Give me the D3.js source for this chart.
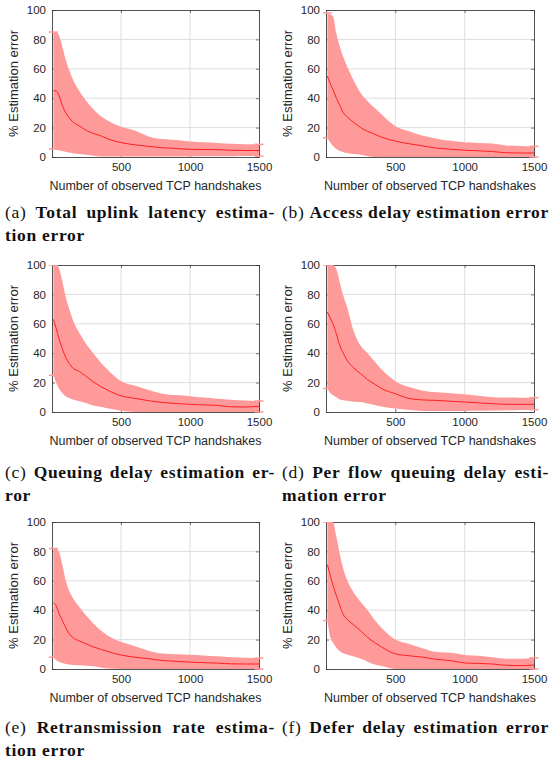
<!DOCTYPE html>
<html>
<head>
<meta charset="utf-8">
<script src="https://cdn.jsdelivr.net/npm/d3@7"></script>
<style>
  body { margin: 0; background: #fff; }
  text { font-family: "Liberation Sans", Arial, sans-serif; }
  .cap { font-family: "Liberation Serif", "Times New Roman", serif; font-size: 17.5px; letter-spacing: 0.7px; fill: #111; }
</style>
</head>
<body>
<svg id="fig" width="553" height="765"></svg>
<script>
// observed handshakes (x positions shared by all panels)
const xPts   = [10, 30, 50, 75, 100, 125, 150, 200, 250, 300, 350, 400, 500, 600, 700, 800, 900, 1000, 1100, 1200, 1300, 1400, 1500];
const xTicks = [500, 1000, 1500];
const yTicks = [0, 20, 40, 60, 80, 100];

// (a) total uplink latency
const meanA  = [45, 45, 42, 35, 30, 26.5, 24, 21, 18, 16, 14.5, 12.5, 9.8, 8.3, 7.2, 6.3, 5.8, 5.2, 5.1, 5.0, 4.6, 4.4, 4.4];
const upperA = [85, 85, 83, 75, 66, 59, 53, 44.5, 38, 32.5, 28, 25, 20.5, 18, 14, 12.2, 11.5, 10.5, 10, 9.5, 9, 8.7, 8.6];
const lowerA = [5.5, 5, 4.6, 4, 3.5, 3, 2.6, 2.1, 1.5, 0.9, 0.3, 0.3, 0.3, 0.3, 0.3, 0.3, 0.4, 0.4, 0.5, 0.5, 0.5, 0.6, 0.6];
// (b) access delay
const meanB  = [55, 50, 46, 40, 35, 30, 27.5, 23.5, 20, 17.5, 15.5, 13.5, 10.8, 9, 7.5, 6, 5.3, 4.6, 4.2, 3.7, 2.9, 2.7, 2.7];
const upperB = [98, 97, 96, 84, 75, 68, 62, 52, 43.5, 38, 33.5, 29, 21, 17.6, 14.5, 12.5, 11, 10, 9.6, 9.2, 7.9, 7.5, 7.3];
const lowerB = [13, 10, 7.5, 5.5, 4, 3.3, 2.8, 2, 1.5, 0.5, 0, 0, 0, 0, 0, 0, 0, 0, 0, 0, 0, 0, 0];
// (c) queuing delay
const meanC  = [63, 57, 50, 43, 37, 33, 30, 27.5, 24, 20.5, 17.5, 15, 11, 9.3, 7.7, 6.5, 5.8, 5.2, 4.8, 4.5, 3.5, 3.4, 3.9];
const upperC = [100, 100, 98, 89, 78, 70, 63, 53.5, 46, 40, 34, 29, 21, 18, 15, 12.5, 11.5, 10.7, 9.8, 9, 8.3, 7.8, 7.5];
const lowerC = [25, 20, 16, 13, 10.5, 9.5, 8.5, 7.3, 6, 4.5, 3.5, 2.5, 0.8, 0, 0, 0, 0, 0, 0, 0, 0, 0, 0];
// (d) per flow queuing delay
const meanD  = [68, 64, 60, 53, 45, 40, 35.5, 30, 26, 22, 19, 16, 12.4, 9.2, 8.2, 7.9, 7.3, 6.8, 6.2, 5.7, 5.2, 5.2, 5.2];
const upperD = [100, 100, 100, 97, 88, 79, 72, 55, 45, 40, 34.5, 29, 21, 17, 14.5, 13.5, 12.7, 12, 11, 10, 9.8, 9.7, 9.7];
const lowerD = [16, 13, 11.5, 10, 8.5, 8, 7.7, 7, 6.8, 5.7, 4.8, 3.8, 2.3, 1.3, 0.7, 0.7, 0.7, 0.7, 0.8, 1, 1.2, 1.4, 1.6];
// (e) retransmission rate
const meanE  = [45, 43, 38, 33, 28, 24, 21.5, 19, 17, 15, 13.5, 12, 9.5, 8, 7, 5.8, 5.2, 4.7, 4.3, 4, 3.5, 3.4, 3.4];
const upperE = [82, 82, 80, 71, 60, 53, 48.5, 42, 36, 31, 26.5, 23, 18.5, 15.5, 12.5, 10.5, 10, 9.7, 9.2, 8.6, 8, 7.6, 7.4];
const lowerE = [8, 6, 5, 4, 3.4, 3, 2.8, 2.5, 2.2, 1.8, 1, 0.3, 0, 0, 0, 0, 0, 0, 0, 0, 0, 0, 0];
// (f) defer delay
const meanF  = [71, 64, 57, 50, 43, 37, 34, 30, 26, 21.5, 18, 15, 10.3, 9, 8, 6.5, 5.7, 4.1, 3.8, 3.4, 2.5, 2.3, 2.7];
const upperF = [100, 100, 100, 90, 78, 68, 61, 52, 45.5, 40, 33.5, 28, 20, 17, 14, 11.5, 11, 9.6, 9, 8, 7, 6.9, 7.6];
const lowerF = [33, 22, 18, 14.5, 12, 10.5, 9.8, 8.5, 6.9, 5, 3, 2, 0, 0, 0, 0, 0, 0, 0, 0, 0, 0, 0];

const captions = [
  ["(a) Total uplink latency estima-", "tion error"],
  ["(b) Access delay estimation error"],
  ["(c) Queuing delay estimation er-", "ror"],
  ["(d) Per flow queuing delay esti-", "mation error"],
  ["(e) Retransmission rate estima-", "tion error"],
  ["(f) Defer delay estimation error"]
];

const series = [
  [meanA, upperA, lowerA], [meanB, upperB, lowerB],
  [meanC, upperC, lowerC], [meanD, upperD, lowerD],
  [meanE, upperE, lowerE], [meanF, upperF, lowerF]
];

// layout of the 3x2 grid
const cols = [{ left: 52, right: 259, capL: 5, capR: 275, ylab: 18 },
              { left: 326, right: 534, capL: 282, capR: 549, ylab: 292 }];
const rows = [{ top: 10, bottom: 157, cap: 218 },
              { top: 265, bottom: 412, cap: 478 },
              { top: 522, bottom: 669, cap: 733 }];

const svg = d3.select('#fig');
const ink = '#262626';
const bandColor = '#ff9a9a';
const lineColor = '#ff1f1f';

function drawPanel(i) {
  const c = cols[i % 2], r = rows[Math.floor(i / 2)];
  const [mean, upper, lower] = series[i];
  const pts = xPts.map((v, k) => ({ x: v, m: mean[k], u: upper[k], l: lower[k] }));

  const x = d3.scaleLinear().domain([0, 1500]).range([c.left, c.right]);
  const y = d3.scaleLinear().domain([0, 100]).range([r.bottom, r.top]);
  const g = svg.append('g');

  // grid
  g.append('g').selectAll('line').data(xTicks.slice(0, -1)).join('line')
    .attr('x1', d => x(d)).attr('x2', d => x(d))
    .attr('y1', r.top).attr('y2', r.bottom)
    .attr('stroke', '#dedede').attr('stroke-width', 1);
  g.append('g').selectAll('line').data(yTicks.slice(1, -1)).join('line')
    .attr('x1', c.left).attr('x2', c.right)
    .attr('y1', d => y(d)).attr('y2', d => y(d))
    .attr('stroke', '#dedede').attr('stroke-width', 1);

  // axes (box with inside ticks)
  const fmt = d3.format('d');
  const axB = g.append('g').attr('transform', `translate(0,${r.bottom})`)
    .call(d3.axisBottom(x).tickValues(xTicks).tickFormat(fmt).tickSizeInner(-3).tickSizeOuter(0).tickPadding(6));
  const axT = g.append('g').attr('transform', `translate(0,${r.top})`)
    .call(d3.axisTop(x).tickValues(xTicks).tickSizeInner(-3).tickSizeOuter(0).tickFormat(''));
  const axL = g.append('g').attr('transform', `translate(${c.left},0)`)
    .call(d3.axisLeft(y).tickValues(yTicks).tickFormat(fmt).tickSizeInner(-3).tickSizeOuter(0).tickPadding(6));
  const axR = g.append('g').attr('transform', `translate(${c.right},0)`)
    .call(d3.axisRight(y).tickValues(yTicks).tickSizeInner(-3).tickSizeOuter(0).tickFormat(''));
  [axB, axT, axL, axR].forEach(a => {
    a.select('.domain').attr('stroke', ink).attr('stroke-width', 0.8);
    a.selectAll('.tick line').attr('stroke', ink).attr('stroke-width', 0.6);
    a.selectAll('text').attr('fill', ink).attr('font-size', 11.5)
      .attr('font-family', '"Liberation Sans", Arial, sans-serif');
  });

  // clip to top of the plot area only
  const cid = 'clip' + i;
  svg.append('clipPath').attr('id', cid).append('rect')
    .attr('x', c.left - 10).attr('y', r.top).attr('width', c.right - c.left + 20).attr('height', r.bottom - r.top + 2);
  const data = g.append('g').attr('clip-path', `url(#${cid})`);

  const area = d3.area().curve(d3.curveMonotoneX)
    .x(d => x(d.x)).y0(d => y(d.l)).y1(d => y(d.u));
  data.append('path').datum(pts).attr('d', area).attr('fill', bandColor);

  // error bar caps at the two ends
  const ends = [pts[0], pts[pts.length - 1]];
  ends.forEach(d => {
    [d.u, d.l].forEach(v => {
      data.append('line')
        .attr('x1', x(d.x) - 4.5).attr('x2', x(d.x) + 4.5)
        .attr('y1', y(v)).attr('y2', y(v))
        .attr('stroke', bandColor).attr('stroke-width', 1.5);
    });
  });

  const line = d3.line().curve(d3.curveMonotoneX).x(d => x(d.x)).y(d => y(d.m));
  data.append('path').datum(pts).attr('d', line)
    .attr('fill', 'none').attr('stroke', lineColor).attr('stroke-width', 1);

  // axis labels
  g.append('text').attr('x', (c.left + c.right) / 2).attr('y', r.bottom + 33)
    .attr('text-anchor', 'middle').attr('font-size', 12.5).attr('fill', ink)
    .text('Number of observed TCP handshakes');
  g.append('text')
    .attr('transform', `translate(${c.ylab},${(r.top + r.bottom) / 2}) rotate(-90)`)
    .attr('text-anchor', 'middle').attr('font-size', 13).attr('fill', ink)
    .text('% Estimation error');

  // caption: first line justified, second line left
  const lines = captions[i];
  lines.forEach((txt, li) => {
    const words = txt.split(' ');
    const yb = r.cap + li * 23;
    const nodes = words.map((w, k) => svg.append('text').attr('class', 'cap').attr('y', yb)
      .attr('font-weight', (li === 0 && k === 0) ? 400 : 700).text(w));
    const widths = nodes.map(n => n.node().getComputedTextLength());
    const gap = li === 0 ? (c.capR - c.capL - d3.sum(widths)) / (words.length - 1) : 5;
    let cx = c.capL;
    nodes.forEach((n, k) => { n.attr('x', cx); cx += widths[k] + gap; });
  });
}

for (let i = 0; i < 6; i++) drawPanel(i);
</script>
</body>
</html>
